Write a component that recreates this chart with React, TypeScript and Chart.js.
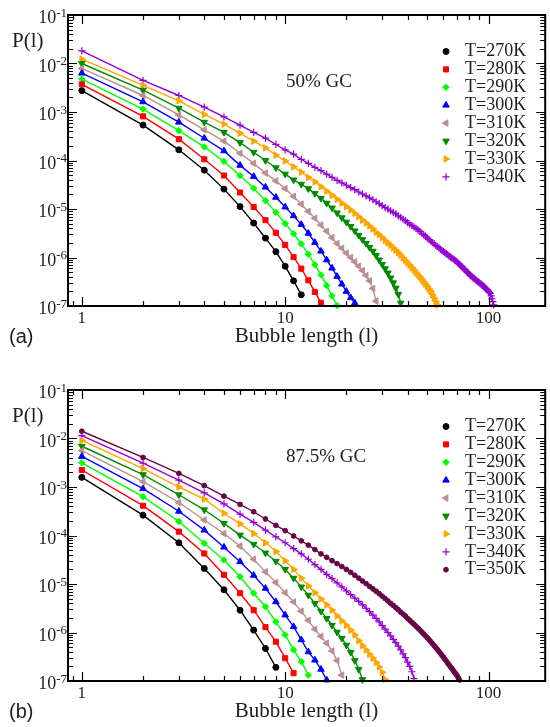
import React, { useEffect, useRef } from 'react';
import { Chart, registerables } from 'chart.js';
import * as helpers from 'chart.js/helpers';

Chart.register(...registerables);

// ---------- data ----------
const bubbleLengths = [
  1, 2, 3, 4, 5, 6, 7, 8, 9, 10, 11, 12, 13, 14, 15, 16, 17, 18, 19, 20,
  21, 22, 23, 24, 25, 26, 27, 28, 29, 30, 31, 32, 33, 34, 35, 36, 37, 38, 39, 40,
  41, 42, 43, 44, 45, 46, 47, 48, 49, 50, 51, 52, 53, 54, 55, 56, 57, 58, 59, 60,
  61, 62, 63, 64, 65, 66, 67, 68, 69, 70, 71, 72, 73, 74, 75, 76, 77, 78, 79, 80,
  81, 82, 83, 84, 85, 86, 87, 88, 89, 90, 91, 92, 93, 94, 95, 96, 97, 98, 99, 100,
  101, 102, 103, 104, 105, 106,
];

const seriesLabels = ['T=270K', 'T=280K', 'T=290K', 'T=300K', 'T=310K', 'T=320K', 'T=330K', 'T=340K', 'T=350K'];

const xTickValues = [1, 10, 100];
const xTickLabels = ['1', '10', '100'];
const yTickExponents = [-7, -6, -5, -4, -3, -2, -1];

// panel (a): 50% GC
const gc50_T270 = [2.75e-3, 5.37e-4, 1.66e-4, 6.31e-5, 2.57e-5, 1.12e-5, 5.13e-6, 2.51e-6, 1.32e-6, 6.61e-7, 3.31e-7, 1.70e-7];
const gc50_T280 = [3.72e-3, 8.13e-4, 2.75e-4, 1.06e-4, 4.90e-5, 2.19e-5, 1.10e-5, 5.89e-6, 3.24e-6, 1.82e-6, 1.02e-6, 5.89e-7, 3.39e-7, 1.95e-7, 1.17e-7];
const gc50_T290 = [4.79e-3, 1.15e-3, 4.12e-4, 1.91e-4, 9.55e-5, 4.90e-5, 2.69e-5, 1.48e-5, 8.51e-6, 5.01e-6, 3.09e-6, 1.91e-6, 1.17e-6, 7.08e-7, 4.37e-7, 2.63e-7, 1.62e-7, 1.02e-7];
const gc50_T300 = [6.31e-3, 1.62e-3, 6.17e-4, 2.88e-4, 1.58e-4, 7.94e-5, 4.68e-5, 2.82e-5, 1.74e-5, 1.10e-5, 7.24e-6, 4.79e-6, 3.16e-6, 2.04e-6, 1.35e-6, 8.91e-7, 6.03e-7, 4.07e-7, 2.82e-7, 2.00e-7, 1.48e-7, 1.15e-7];
const gc50_T310 = [7.94e-3, 2.19e-3, 8.71e-4, 4.27e-4, 2.51e-4, 1.41e-4, 8.71e-5, 5.50e-5, 3.80e-5, 2.63e-5, 1.82e-5, 1.26e-5, 8.91e-6, 6.46e-6, 4.68e-6, 3.47e-6, 2.57e-6, 1.95e-6, 1.55e-6, 1.23e-6, 1.00e-6, 8.13e-7, 6.61e-7, 5.37e-7, 4.27e-7, 3.31e-7, 2.29e-7, 1.26e-7];
const gc50_T320 = [1.00e-2, 2.82e-3, 1.20e-3, 6.17e-4, 3.80e-4, 2.34e-4, 1.48e-4, 1.00e-4, 7.08e-5, 5.25e-5, 3.98e-5, 3.24e-5, 2.63e-5, 2.09e-5, 1.66e-5, 1.32e-5, 1.05e-5, 8.32e-6, 6.61e-6, 5.37e-6, 4.37e-6, 3.55e-6, 2.88e-6, 2.34e-6, 1.95e-6, 1.62e-6, 1.35e-6, 1.10e-6, 8.91e-7, 7.24e-7, 5.89e-7, 4.79e-7, 3.80e-7, 3.02e-7, 2.34e-7, 1.74e-7, 1.15e-7];
const gc50_T330 = [
  1.23e-2, 3.55e-3, 1.70e-3, 8.91e-4, 5.62e-4, 3.63e-4, 2.51e-4, 1.82e-4, 1.29e-4, 9.77e-5,
  7.41e-5, 5.75e-5, 4.47e-5, 3.63e-5, 2.88e-5, 2.34e-5, 1.91e-5, 1.58e-5, 1.32e-5, 1.12e-5,
  9.55e-6, 8.13e-6, 6.92e-6, 5.89e-6, 5.13e-6, 4.47e-6, 3.89e-6, 3.31e-6, 2.95e-6, 2.57e-6,
  2.24e-6, 2.00e-6, 1.78e-6, 1.58e-6, 1.41e-6, 1.26e-6, 1.12e-6, 9.77e-7, 8.71e-7, 7.76e-7,
  6.92e-7, 6.17e-7, 5.50e-7, 4.90e-7, 4.37e-7, 3.98e-7, 3.55e-7, 3.16e-7, 2.82e-7, 2.51e-7,
  2.24e-7, 2.00e-7, 1.70e-7, 1.45e-7, 1.23e-7, 1.05e-7,
];
const gc50_T340 = [
  1.82e-2, 4.47e-3, 2.19e-3, 1.26e-3, 7.94e-4, 5.37e-4, 3.80e-4, 2.88e-4, 2.14e-4, 1.66e-4,
  1.35e-4, 1.05e-4, 8.71e-5, 7.24e-5, 6.17e-5, 5.25e-5, 4.47e-5, 3.89e-5, 3.47e-5, 3.09e-5,
  2.75e-5, 2.51e-5, 2.24e-5, 2.04e-5, 1.86e-5, 1.70e-5, 1.55e-5, 1.41e-5, 1.29e-5, 1.17e-5,
  1.07e-5, 1.00e-5, 9.12e-6, 8.51e-6, 7.94e-6, 7.24e-6, 6.76e-6, 6.17e-6, 5.75e-6, 5.25e-6,
  4.90e-6, 4.57e-6, 4.27e-6, 3.98e-6, 3.72e-6, 3.47e-6, 3.16e-6, 2.95e-6, 2.75e-6, 2.51e-6,
  2.34e-6, 2.19e-6, 2.04e-6, 1.91e-6, 1.78e-6, 1.70e-6, 1.58e-6, 1.48e-6, 1.41e-6, 1.32e-6,
  1.26e-6, 1.20e-6, 1.15e-6, 1.07e-6, 1.02e-6, 9.77e-7, 9.33e-7, 8.91e-7, 8.51e-7, 8.13e-7,
  7.59e-7, 7.24e-7, 6.76e-7, 6.46e-7, 6.03e-7, 5.75e-7, 5.50e-7, 5.13e-7, 4.90e-7, 4.68e-7,
  4.37e-7, 4.17e-7, 3.98e-7, 3.80e-7, 3.72e-7, 3.55e-7, 3.39e-7, 3.24e-7, 3.16e-7, 3.02e-7,
  2.88e-7, 2.82e-7, 2.69e-7, 2.63e-7, 2.51e-7, 2.40e-7, 2.29e-7, 2.19e-7, 2.09e-7, 2.00e-7,
  1.91e-7, 1.82e-7, 1.62e-7, 1.41e-7, 1.23e-7, 1.05e-7,
];

// panel (b): 87.5% GC
const gc875_T270 = [1.58e-3, 2.63e-4, 7.08e-5, 2.09e-5, 7.59e-6, 2.88e-6, 1.12e-6, 4.68e-7, 1.91e-7];
const gc875_T280 = [2.24e-3, 4.12e-4, 1.20e-4, 4.27e-5, 1.55e-5, 6.46e-6, 2.88e-6, 1.29e-6, 6.46e-7, 2.95e-7, 1.45e-7];
const gc875_T290 = [3.16e-3, 6.31e-4, 1.95e-4, 6.92e-5, 3.13e-5, 1.41e-5, 6.46e-6, 3.39e-6, 1.66e-6, 8.91e-7, 4.37e-7, 2.51e-7, 1.32e-7];
const gc875_T300 = [4.27e-3, 9.23e-4, 3.16e-4, 1.29e-4, 5.75e-5, 2.88e-5, 1.51e-5, 8.13e-6, 4.31e-6, 2.29e-6, 1.32e-6, 7.08e-7, 3.98e-7, 2.69e-7, 1.74e-7, 1.05e-7];
const gc875_T310 = [5.62e-3, 1.29e-3, 4.79e-4, 2.09e-4, 1.10e-4, 6.03e-5, 3.24e-5, 1.78e-5, 1.07e-5, 6.61e-6, 4.27e-6, 2.75e-6, 1.78e-6, 1.17e-6, 8.32e-7, 6.03e-7, 4.17e-7, 2.63e-7, 1.32e-7];
const gc875_T320 = [6.92e-3, 1.80e-3, 6.92e-4, 3.39e-4, 1.78e-4, 1.02e-4, 6.61e-5, 4.37e-5, 2.95e-5, 2.00e-5, 1.32e-5, 8.71e-6, 5.89e-6, 3.98e-6, 2.75e-6, 1.95e-6, 1.41e-6, 1.02e-6, 7.59e-7, 5.50e-7, 3.89e-7, 2.63e-7, 1.74e-7, 1.07e-7];
const gc875_T330 = [
  9.12e-3, 2.40e-3, 1.00e-3, 5.62e-4, 2.88e-4, 1.74e-4, 1.10e-4, 7.08e-5, 4.68e-5, 3.02e-5,
  2.00e-5, 1.32e-5, 9.12e-6, 6.61e-6, 4.90e-6, 3.72e-6, 2.88e-6, 2.19e-6, 1.74e-6, 1.41e-6,
  1.12e-6, 8.91e-7, 6.76e-7, 5.37e-7, 4.37e-7, 3.55e-7, 2.95e-7, 2.40e-7, 1.95e-7, 1.51e-7,
  1.07e-7,
];
const gc875_T340 = [
  1.15e-2, 3.09e-3, 1.38e-3, 7.59e-4, 4.47e-4, 2.75e-4, 1.86e-4, 1.29e-4, 9.33e-5, 7.08e-5,
  5.37e-5, 4.17e-5, 3.24e-5, 2.51e-5, 2.00e-5, 1.58e-5, 1.29e-5, 1.05e-5, 8.71e-6, 7.24e-6,
  6.03e-6, 5.13e-6, 4.37e-6, 3.72e-6, 3.16e-6, 2.69e-6, 2.29e-6, 1.95e-6, 1.66e-6, 1.38e-6,
  1.17e-6, 1.00e-6, 8.51e-7, 7.24e-7, 6.17e-7, 5.25e-7, 4.37e-7, 3.63e-7, 3.02e-7, 2.45e-7,
  2.00e-7, 1.55e-7, 1.12e-7,
];
const gc875_T350 = [
  1.41e-2, 4.07e-3, 1.91e-3, 1.07e-3, 6.46e-4, 4.37e-4, 3.09e-4, 2.19e-4, 1.62e-4, 1.26e-4,
  9.77e-5, 7.76e-5, 6.31e-5, 5.13e-5, 4.17e-5, 3.55e-5, 3.02e-5, 2.63e-5, 2.29e-5, 2.00e-5,
  1.74e-5, 1.51e-5, 1.32e-5, 1.15e-5, 1.02e-5, 8.91e-6, 7.94e-6, 7.08e-6, 6.31e-6, 5.62e-6,
  5.01e-6, 4.47e-6, 3.98e-6, 3.63e-6, 3.24e-6, 2.95e-6, 2.63e-6, 2.40e-6, 2.19e-6, 1.95e-6,
  1.78e-6, 1.62e-6, 1.48e-6, 1.35e-6, 1.23e-6, 1.12e-6, 1.02e-6, 9.33e-7, 8.51e-7, 7.76e-7,
  7.08e-7, 6.46e-7, 5.89e-7, 5.37e-7, 4.90e-7, 4.47e-7, 4.07e-7, 3.72e-7, 3.39e-7, 3.09e-7,
  2.82e-7, 2.57e-7, 2.34e-7, 2.14e-7, 1.95e-7, 1.82e-7, 1.66e-7, 1.51e-7, 1.41e-7, 1.29e-7,
  1.17e-7, 1.05e-7,
];

const panelASeries = [gc50_T270, gc50_T280, gc50_T290, gc50_T300, gc50_T310, gc50_T320, gc50_T330, gc50_T340];
const panelBSeries = [gc875_T270, gc875_T280, gc875_T290, gc875_T300, gc875_T310, gc875_T320, gc875_T330, gc875_T340, gc875_T350];

// ---------- styles ----------
const SERIF = '"Liberation Serif", "Times New Roman", Times, serif';
const SANS = '"Liberation Sans", Arial, Helvetica, sans-serif';
const INK = '#1e1e1e';

type MarkStyle = { color: string; pointStyle: string; rotation: number; radius: number; borderWidth: number };
const markStyles: MarkStyle[] = [
  { color: '#000000', pointStyle: 'circle', rotation: 0, radius: 3, borderWidth: 1 },
  { color: '#ff0000', pointStyle: 'rect', rotation: 0, radius: 3.6, borderWidth: 1 },
  { color: '#00ff00', pointStyle: 'rectRot', rotation: 0, radius: 3.2, borderWidth: 1 },
  { color: '#0000ff', pointStyle: 'triangle', rotation: 0, radius: 3.8, borderWidth: 1 },
  { color: '#bc8f8f', pointStyle: 'triangle', rotation: -90, radius: 3.8, borderWidth: 1 },
  { color: '#008b00', pointStyle: 'triangle', rotation: 180, radius: 3.8, borderWidth: 1 },
  { color: '#ffa500', pointStyle: 'triangle', rotation: 90, radius: 3.8, borderWidth: 1 },
  { color: '#9400d3', pointStyle: 'cross', rotation: 0, radius: 3.6, borderWidth: 1.2 },
  { color: '#670748', pointStyle: 'circle', rotation: 0, radius: 2.4, borderWidth: 1 },
];

type PanelDef = { letter: string; gcLabel: string; series: number[][] };
const panelA: PanelDef = { letter: '(a)', gcLabel: '50% GC', series: panelASeries };
const panelB: PanelDef = { letter: '(b)', gcLabel: '87.5% GC', series: panelBSeries };

const CANVAS_W = 550;
const CANVAS_H = 352;

function makeDecor(panel: PanelDef) {
  return {
    id: 'decor',
    afterDraw(chart: any) {
      const ctx: CanvasRenderingContext2D = chart.ctx;
      const a = chart.chartArea;
      const xs = chart.scales.x;
      const ys = chart.scales.y;
      ctx.save();

      // frame
      ctx.strokeStyle = '#000';
      ctx.lineWidth = 2;
      ctx.strokeRect(a.left, a.top, a.right - a.left, a.bottom - a.top);

      // inward ticks
      ctx.lineWidth = 1.2;
      ctx.beginPath();
      for (let e = -1; e <= 2; e++) {
        for (let k = 1; k <= 9; k++) {
          const v = k * Math.pow(10, e);
          if (v < xs.min || v > xs.max) continue;
          const len = k === 1 ? 9 : 5;
          const px = Math.round(xs.getPixelForValue(v)) + 0.5;
          ctx.moveTo(px, a.bottom);
          ctx.lineTo(px, a.bottom - len);
          ctx.moveTo(px, a.top);
          ctx.lineTo(px, a.top + len);
        }
      }
      for (let e = -7; e <= -1; e++) {
        for (let k = 1; k <= 9; k++) {
          const v = k * Math.pow(10, e);
          if (v < ys.min * 0.999 || v > ys.max * 1.001) continue;
          const len = k === 1 ? 9 : 5;
          const py = Math.round(ys.getPixelForValue(v)) + 0.5;
          ctx.moveTo(a.left, py);
          ctx.lineTo(a.left + len, py);
          ctx.moveTo(a.right, py);
          ctx.lineTo(a.right - len, py);
        }
      }
      ctx.stroke();

      // y tick labels with superscripts
      ctx.fillStyle = INK;
      ctx.textAlign = 'left';
      ctx.textBaseline = 'alphabetic';
      for (const e of yTickExponents) {
        const py = ys.getPixelForValue(Math.pow(10, e));
        const expStr = String(e);
        ctx.font = `13px ${SERIF}`;
        const we = ctx.measureText(expStr).width;
        ctx.font = `18px ${SERIF}`;
        const wb = ctx.measureText('10').width;
        const xr = 67;
        ctx.fillText('10', xr - we - wb, py + 8);
        ctx.font = `13px ${SERIF}`;
        ctx.fillText(expStr, xr - we, py + 1.5);
      }

      // y axis title
      ctx.textBaseline = 'middle';
      ctx.font = `21px ${SERIF}`;
      ctx.fillText('P(l)', 12, 41);

      // GC annotation
      ctx.font = `19px ${SERIF}`;
      ctx.fillText(panel.gcLabel, 286, 82);

      // panel letter
      ctx.font = `20px ${SANS}`;
      ctx.fillText(panel.letter, 9, 337);

      // legend
      panel.series.forEach((_, i) => {
        const st = markStyles[i];
        const y = 51.5 + i * 17.9;
        ctx.fillStyle = st.color;
        ctx.strokeStyle = st.color;
        ctx.lineWidth = st.borderWidth;
        helpers.drawPoint(ctx, { pointStyle: st.pointStyle, rotation: st.rotation, radius: st.radius, borderWidth: st.borderWidth } as any, 446, y);
        ctx.fillStyle = INK;
        ctx.font = `18px ${SERIF}`;
        ctx.textBaseline = 'middle';
        ctx.fillText(seriesLabels[i], 465, y);
      });

      ctx.restore();
    },
  };
}

function Panel({ panel, top }: { panel: PanelDef; top: number }) {
  const ref = useRef<HTMLCanvasElement>(null);
  useEffect(() => {
    const canvas = ref.current;
    if (!canvas) return;
    const datasets = panel.series.map((vals, i) => {
      const st = markStyles[i];
      return {
        label: seriesLabels[i],
        data: vals.map((v, j) => ({ x: bubbleLengths[j], y: v })),
        showLine: true,
        borderColor: st.color,
        backgroundColor: st.color,
        borderWidth: 1.4,
        pointStyle: st.pointStyle,
        pointRotation: st.rotation,
        pointRadius: st.radius,
        pointHoverRadius: st.radius,
        pointBackgroundColor: st.color,
        pointBorderColor: st.color,
        pointBorderWidth: st.borderWidth,
        tension: 0,
        clip: 6,
      };
    });
    const chart = new Chart(canvas, {
      type: 'scatter',
      data: { datasets } as any,
      options: {
        animation: false,
        responsive: false,
        events: [],
        layout: { padding: { left: 0, right: 2, top: 15, bottom: 0 } },
        plugins: { legend: { display: false }, tooltip: { enabled: false } },
        scales: {
          x: {
            type: 'logarithmic',
            position: 'bottom',
            min: 0.855,
            max: 190,
            grid: { display: false, drawTicks: false },
            border: { display: false },
            afterBuildTicks: (s: any) => {
              s.ticks = xTickValues.map((v) => ({ value: v }));
            },
            afterFit: (s: any) => {
              s.height = 46;
            },
            ticks: {
              autoSkip: false,
              maxRotation: 0,
              padding: 2,
              color: INK,
              font: { family: SERIF, size: 17 },
              callback: (value: any) => {
                const idx = xTickValues.indexOf(Number(value));
                return idx >= 0 ? xTickLabels[idx] : '';
              },
            },
            title: {
              display: true,
              text: 'Bubble length (l)',
              color: INK,
              font: { family: SERIF, size: 21 },
              padding: { top: 0, bottom: 3 },
            },
          },
          y: {
            type: 'logarithmic',
            min: 1e-7,
            max: 1e-1,
            grid: { display: false, drawTicks: false },
            border: { display: false },
            ticks: { display: false },
            afterFit: (s: any) => {
              s.width = 68;
            },
          },
        },
      } as any,
      plugins: [makeDecor(panel)],
    });
    return () => chart.destroy();
  }, [panel]);
  return (
    <canvas
      ref={ref}
      width={CANVAS_W}
      height={CANVAS_H}
      style={{ position: 'absolute', left: 0, top, width: CANVAS_W, height: CANVAS_H }}
    />
  );
}

export default function App() {
  return (
    <div style={{ position: 'absolute', left: 0, top: 0, width: 550, height: 727, background: '#ffffff', overflow: 'hidden' }}>
      <Panel panel={panelA} top={0} />
      <Panel panel={panelB} top={375} />
    </div>
  );
}
